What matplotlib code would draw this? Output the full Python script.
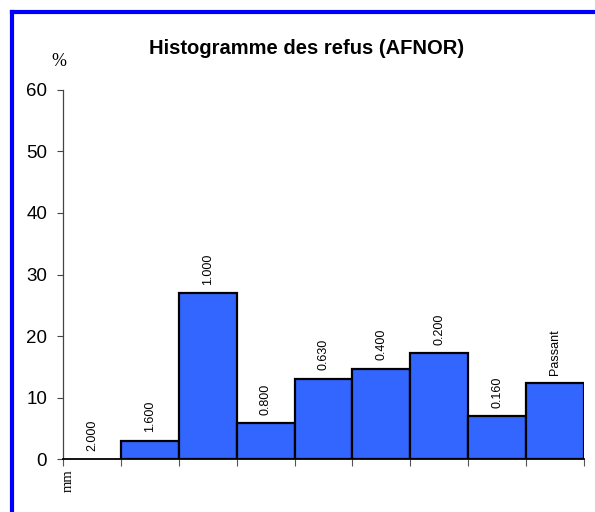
import matplotlib
matplotlib.use("Agg")
import matplotlib.pyplot as plt
from matplotlib.lines import Line2D
import numpy as np

plt.rcParams["font.family"] = ["Liberation Sans", "DejaVu Sans"]

# données
classes = ["2.000", "1.600", "1.000", "0.800", "0.630", "0.400", "0.200", "0.160", "Passant"]
refus   = [0.0, 3.0, 27.0, 5.9, 13.1, 14.7, 17.2, 7.0, 12.4]
y_ticks = [0, 10, 20, 30, 40, 50, 60]

BAR_COLOR = "#3366FF"

fig = plt.figure(figsize=(5.95, 5.12), dpi=100)
ax = fig.add_axes([63 / 595, 1 - 459.3 / 512, (584 - 63) / 595, (459.3 - 89.7) / 512])

x = np.arange(len(classes))
vals = np.array(refus)
lw = [1.6 if v > 0 else 0 for v in vals]
ax.bar(x + 0.5, vals, width=1.0, color=BAR_COLOR, edgecolor="black", linewidth=lw, zorder=3)

for xi, v, lbl in zip(x, refus, classes):
    ax.annotate(lbl, (xi + 0.5, v), xytext=(0, 6), textcoords="offset points",
                rotation=90, ha="center", va="bottom", fontsize=9)

ax.set_xlim(0, len(classes))
ax.set_ylim(0, 60)
ax.set_yticks(y_ticks)
ax.set_xticks(np.arange(len(classes) + 1))
ax.set_xticklabels([])
ax.tick_params(axis="y", labelsize=13.5, length=4.5, pad=7, color="#444444")
ax.tick_params(axis="x", length=5, color="#555555", direction="out")

for side in ("top", "right"):
    ax.spines[side].set_visible(False)
ax.spines["left"].set_color("#444444")
ax.spines["left"].set_linewidth(0.9)
ax.spines["bottom"].set_color("black")
ax.spines["bottom"].set_linewidth(1.3)
ax.spines["bottom"].set_zorder(4)

fig.text(307 / 595, 1 - 48 / 512, "Histogramme des refus (AFNOR)",
         ha="center", va="center", fontsize=14.5, fontweight="bold")
fig.text(59 / 595, 1 - 62 / 512, "%", ha="center", va="center",
         fontsize=13, family="Liberation Serif")
fig.text(68 / 595, 1 - 481 / 512, "mm", ha="center", va="center", rotation=90,
         fontsize=10.5, family="Liberation Serif")

# cadre bleu (haut et gauche)
fig.add_artist(Line2D([12 / 595, 12 / 595], [-0.05, 1 - 12 / 512], transform=fig.transFigure,
                      color="blue", linewidth=3, solid_capstyle="projecting"))
fig.add_artist(Line2D([12 / 595, 1.05], [1 - 12 / 512, 1 - 12 / 512], transform=fig.transFigure,
                      color="blue", linewidth=3, solid_capstyle="projecting"))

fig.savefig("out.png", dpi=100)
